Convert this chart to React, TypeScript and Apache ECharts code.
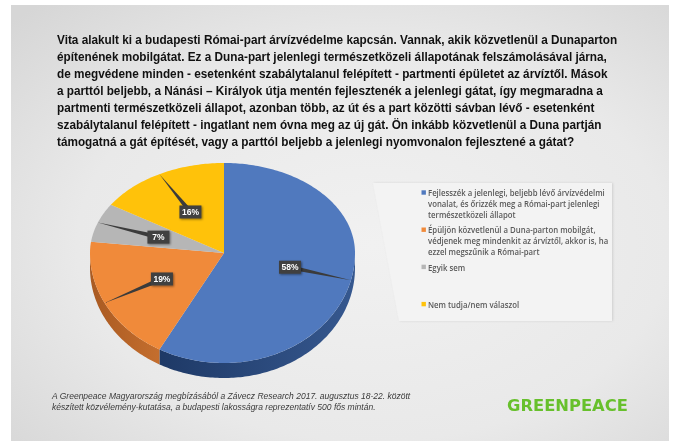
import React, { useEffect, useRef } from "react";
import * as echarts from "echarts";

const TITLE_LINES = [
  "Vita alakult ki a budapesti Római-part árvízvédelme kapcsán. Vannak, akik közvetlenül a Dunaparton",
  "építenének mobilgátat. Ez a Duna-part jelenlegi természetközeli állapotának felszámolásával járna,",
  "de megvédene minden - esetenként szabálytalanul felépített - partmenti épületet az árvíztől. Mások",
  "a parttól beljebb, a Nánási – Királyok útja mentén fejlesztenék a jelenlegi gátat, így megmaradna a",
  "partmenti természetközeli állapot, azonban több, az út és a part közötti sávban lévő - esetenként",
  "szabálytalanul felépített - ingatlant nem óvna meg az új gát. Ön inkább közvetlenül a Duna partján",
  "támogatná a gát építését, vagy a parttól beljebb a jelenlegi nyomvonalon fejlesztené a gátat?",
];

const CATEGORY_LINES = [
  [
    "Fejlesszék a jelenlegi, beljebb lévő árvízvédelmi",
    "vonalat, és őrizzék meg a Római-part jelenlegi",
    "természetközeli állapot",
  ],
  [
    "Épüljön közvetlenül a Duna-parton mobilgát,",
    "védjenek meg mindenkit az árvíztől, akkor is, ha",
    "ezzel megszűnik a Római-part",
  ],
  ["Egyik sem"],
  ["Nem tudja/nem válaszol"],
];
const CATEGORIES = CATEGORY_LINES.map((l) => l.join(" "));
const VALUES = [58, 19, 7, 16];

const FOOTER_LINES = [
  "A Greenpeace Magyarország megbízásából a Závecz Research 2017. augusztus 18-22. között",
  "készített közvélemény-kutatása, a budapesti lakosságra reprezentatív 500 fős mintán.",
];
const LOGO = "GREENPEACE";

const COLORS = ["#5079be", "#f08a3a", "#b6b6b6", "#ffc20a"];
const SIDE_COLORS = [
  ["#36588f", "#1e3966"],
  ["#c46e2e", "#a95a22"],
  ["#8c8c8c", "#777777"],
  ["#c99a00", "#b08600"],
];

function measure(text: string, font: string): number {
  const c = document.createElement("canvas").getContext("2d");
  if (!c) return text.length * 6;
  c.font = font;
  return c.measureText(text).width;
}

export default function App() {
  const ref = useRef<HTMLDivElement>(null);

  useEffect(() => {
    if (!ref.current) return;
    const chart = echarts.init(ref.current, null, { renderer: "svg" });

    const titleFont = 'bold 12.5px "Liberation Sans"';
    const titleScale = 561 / measure(TITLE_LINES[0], titleFont);
    const legendFont = '600 9px "Open Sans"';
    const legendScale = 177 / measure(CATEGORY_LINES[0][0], legendFont);
    const footerFont = 'italic 8.5px "Liberation Sans"';
    const footerScale = 359 / measure(FOOTER_LINES[0], footerFont);
    const logoFont = 'bold 16px "DejaVu Sans"';
    const logoScale = 121 / measure(LOGO, logoFont);

    const total = VALUES.reduce((a, b) => a + b, 0);
    const CX = 224,
      CY = 253,
      RXL = 134,
      RXR = 131,
      RYT = 90,
      RYB = 110,
      DEPTH = 15;
    const rim = (t: number): number[] => {
      const s = Math.sin(t),
        c = Math.cos(t);
      return [CX + (s >= 0 ? RXR : RXL) * s, CY - (c >= 0 ? RYT : RYB) * c];
    };
    const arc = (a0: number, a1: number): number[][] => {
      const pts: number[][] = [];
      const n = Math.max(2, Math.ceil(((a1 - a0) * 180) / Math.PI));
      for (let k = 0; k <= n; k++) pts.push(rim(a0 + ((a1 - a0) * k) / n));
      return pts;
    };

    const graphics: any[] = [];
    graphics.push({
      type: "rect",
      shape: { x: 0, y: 0, width: 673, height: 441 },
      style: { fill: "#ffffff" },
      silent: true,
    });
    graphics.push({
      type: "rect",
      shape: { x: 11, y: 5, width: 658, height: 436 },
      style: {
        fill: new echarts.graphic.RadialGradient(0.55, 0.55, 0.75, [
          { offset: 0, color: "#f1f1f1" },
          { offset: 0.6, color: "#e9e9e9" },
          { offset: 1, color: "#d6d6d6" },
        ]),
      },
      silent: true,
    });
    // legend panel
    graphics.push({
      type: "polygon",
      shape: {
        points: [
          [373, 183],
          [612, 183],
          [612, 321],
          [399, 321],
        ],
      },
      style: { fill: "#f3f3f3", shadowBlur: 2, shadowColor: "rgba(0,0,0,0.12)", shadowOffsetX: 1 },
      silent: true,
    });

    TITLE_LINES.forEach((line, i) => {
      graphics.push({
        type: "text",
        x: 57,
        y: 40 + i * 17,
        scaleX: titleScale,
        style: {
          text: line,
          fill: "#111111",
          fontSize: 12.5,
          fontWeight: "bold",
          fontFamily: "Liberation Sans",
          verticalAlign: "middle",
        },
        silent: true,
      });
    });

    CATEGORY_LINES.forEach((lines, i) => {
      const top = 192.5 + i * 37.2;
      graphics.push({
        type: "rect",
        shape: { x: 421.5, y: top - 2.2, width: 4.4, height: 4.4 },
        style: { fill: COLORS[i] },
        silent: true,
      });
      lines.forEach((line, j) => {
        graphics.push({
          type: "text",
          x: 428,
          y: top + j * 11,
          scaleX: legendScale,
          style: {
            text: line,
            fill: "#595959",
            fontSize: 9,
            fontWeight: 600,
            fontFamily: "Open Sans",
            verticalAlign: "middle",
          },
          silent: true,
        });
      });
    });

    FOOTER_LINES.forEach((line, i) => {
      graphics.push({
        type: "text",
        x: 52,
        y: 396 + i * 11,
        scaleX: footerScale,
        style: {
          text: line,
          fill: "#3a3a3a",
          fontSize: 8.5,
          fontStyle: "italic",
          fontFamily: "Liberation Sans",
          verticalAlign: "middle",
        },
        silent: true,
      });
    });

    graphics.push({
      type: "text",
      x: 507,
      y: 406,
      scaleX: logoScale,
      style: {
        text: LOGO,
        fill: "#67c02c",
        fontSize: 16,
        fontWeight: "bold",
        fontFamily: "DejaVu Sans",
        verticalAlign: "middle",
      },
      silent: true,
    });

    const option: any = {
      animation: false,
      graphic: { elements: graphics },
      series: [
        {
          type: "custom",
          coordinateSystem: "none",
          silent: true,
          data: VALUES.map((v, i) => ({ name: CATEGORIES[i], value: v })),
          renderItem: (params: any, api: any) => {
            const i = params.dataIndex;
            const v = api.value(0);
            let before = 0;
            for (let k = 0; k < i; k++) before += VALUES[k];
            const a0 = (before / total) * Math.PI * 2;
            const a1 = ((before + v) / total) * Math.PI * 2;
            const children: any[] = [];
            const s0 = Math.max(a0, Math.PI / 2);
            const s1 = Math.min(a1, (Math.PI * 3) / 2);
            if (s1 > s0) {
              const upper = arc(s0, s1);
              const lower = upper.map((p) => [p[0], p[1] + DEPTH]).reverse();
              children.push({
                type: "polygon",
                z2: 0,
                shape: { points: upper.concat(lower) },
                style: {
                  fill: new echarts.graphic.LinearGradient(1, 0, 0, 0, [
                    { offset: 0, color: SIDE_COLORS[i][0] },
                    { offset: 1, color: SIDE_COLORS[i][1] },
                  ]),
                },
              });
            }
            children.push({
              type: "polygon",
              z2: 1,
              shape: { points: [[CX, CY]].concat(arc(a0, a1)) },
              style: { fill: COLORS[i] },
            });
            const mid = (a0 + a1) / 2;
            const rp = rim(mid);
            const lp = [CX + 0.52 * (rp[0] - CX), CY + 0.52 * (rp[1] - CY)];
            const dx = rp[0] - lp[0],
              dy = rp[1] - lp[1];
            const len = Math.sqrt(dx * dx + dy * dy) || 1;
            const px = (-dy / len) * 2.4,
              py = (dx / len) * 2.4;
            children.push({
              type: "polygon",
              z2: 5,
              shape: {
                points: [
                  [lp[0] + px, lp[1] + py],
                  [lp[0] - px, lp[1] - py],
                  [rp[0], rp[1]],
                ],
              },
              style: { fill: "#3b3b3b" },
            });
            children.push({
              type: "rect",
              z2: 6,
              shape: { x: lp[0] - 11, y: lp[1] - 6.5, width: 22, height: 13 },
              style: {
                fill: "#3f3f3f",
                shadowBlur: 2,
                shadowColor: "rgba(0,0,0,0.45)",
                shadowOffsetX: 1,
                shadowOffsetY: 1,
              },
            });
            children.push({
              type: "text",
              z2: 7,
              x: lp[0],
              y: lp[1],
              style: {
                text: v + "%",
                fill: "#ffffff",
                fontSize: 8.5,
                fontWeight: "bold",
                fontFamily: "Liberation Sans",
                align: "center",
                verticalAlign: "middle",
              },
            });
            return { type: "group", children };
          },
        },
      ],
    };

    chart.setOption(option);
    return () => chart.dispose();
  }, []);

  return (
    <div
      ref={ref}
      style={{ position: "fixed", left: 0, top: 0, width: 673, height: 441 }}
    />
  );
}
